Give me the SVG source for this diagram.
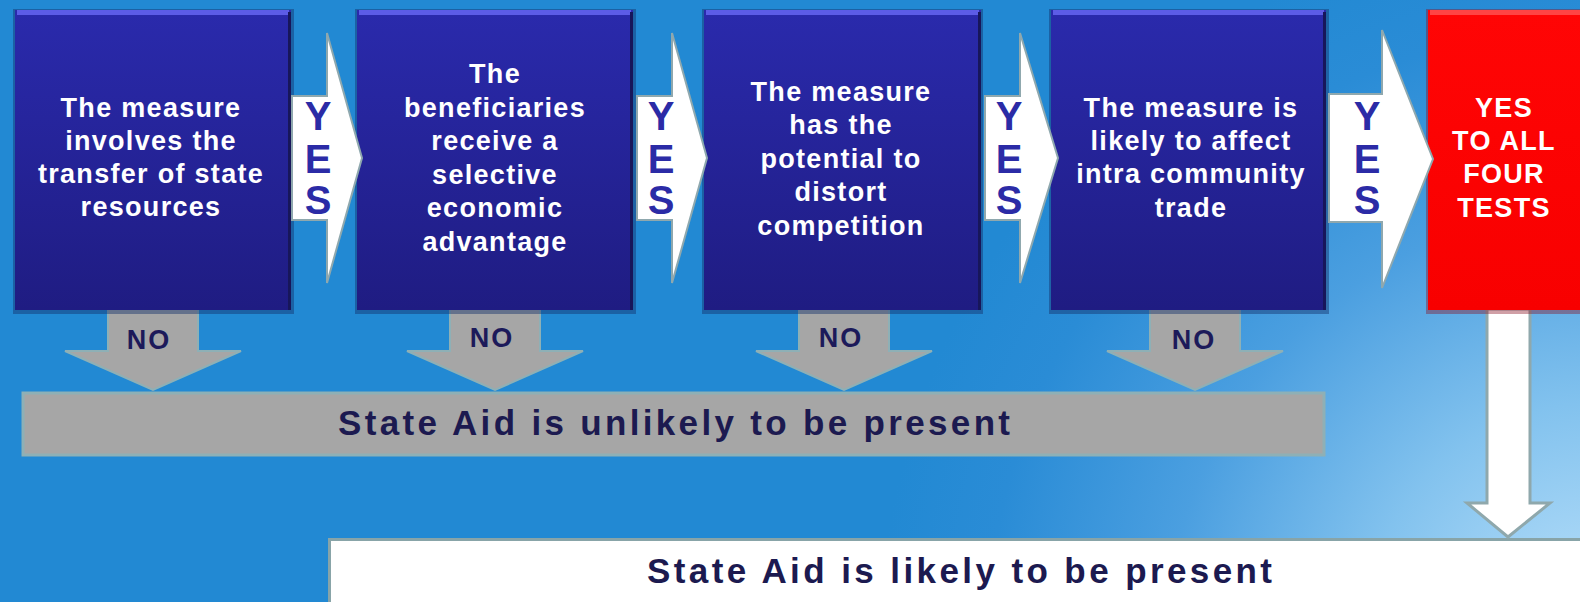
<svg xmlns="http://www.w3.org/2000/svg" width="1580" height="602" viewBox="0 0 1580 602">
  <defs>
    <radialGradient id="bg" gradientUnits="userSpaceOnUse" cx="1600" cy="640" r="720">
      <stop offset="0" stop-color="#bfe3fb"/>
      <stop offset="0.33" stop-color="#82c2ee"/>
      <stop offset="0.6" stop-color="#4b9fe0"/>
      <stop offset="0.85" stop-color="#2a8cd6"/>
      <stop offset="1" stop-color="#2289d3"/>
    </radialGradient>
    <linearGradient id="boxFill" x1="0" y1="0" x2="0" y2="1">
      <stop offset="0" stop-color="#2a2aac"/>
      <stop offset="1" stop-color="#1f1c82"/>
    </linearGradient>
    <linearGradient id="redFill" x1="0" y1="0" x2="0" y2="1">
      <stop offset="0" stop-color="#ff0505"/>
      <stop offset="1" stop-color="#f80000"/>
    </linearGradient>
    <style>
      .txt { font-family: "Liberation Sans", Arial, sans-serif; font-weight: bold; }
      .boxText { fill: #ffffff; font-size: 27px; letter-spacing: 1.3px; text-anchor: middle; }
      .yes { fill: #2b2ba6; font-size: 40px; text-anchor: middle; }
      .no { fill: #1c1a5a; font-size: 27px; letter-spacing: 2px; text-anchor: middle; }
      .big { fill: #1c1a50; font-size: 35px; }
      .shadow { fill: #13306a; opacity: 0.45; }
      .box { fill: url(#boxFill); }
      .hilite { fill: #5c5ce6; }
      .edge { fill: #17165a; }
      .yesArrow { fill: #ffffff; stroke: #8fa8ae; stroke-width: 2; }
      .noArrow { fill: #a6a6a6; stroke: #8eb0b6; stroke-width: 2; }
    </style>
  </defs>

  <!-- backdrop -->
  <rect x="0" y="0" width="1580" height="602" fill="url(#bg)"/>

  <!-- outcome bar for a failed test -->
  <g id="unlikely">
    <rect x="23" y="393" width="1301" height="62" fill="#a6a6a6" stroke="#8eb0b6" stroke-width="3"/>
    <text class="txt big" x="338" y="435" textLength="672" lengthAdjust="spacing">State Aid is unlikely to be present</text>
  </g>

  <!-- outcome box when all tests pass -->
  <g id="likely">
    <rect x="329.5" y="539.5" width="1300" height="100" fill="#ffffff" stroke="#88a4a8" stroke-width="3"/>
    <text class="txt big" x="647" y="583" textLength="625" lengthAdjust="spacing">State Aid is likely to be present</text>
  </g>

  <!-- connectors: NO drops, YES arrows, final down arrow -->
  <g id="connectors">
    <g id="no-arrows">
      <path class="noArrow" d="M108,309 H198 V351 H241 L153,390 L65,351 H108 Z"/>
      <path class="noArrow" d="M450,309 H540 V351 H583 L495,390 L407,351 H450 Z"/>
      <path class="noArrow" d="M799,309 H889 V351 H932 L844,390 L756,351 H799 Z"/>
      <path class="noArrow" d="M1150,309 H1240 V351 H1283 L1195,390 L1107,351 H1150 Z"/>
      <text class="txt no" x="149" y="349">NO</text>
      <text class="txt no" x="492" y="347">NO</text>
      <text class="txt no" x="841" y="347">NO</text>
      <text class="txt no" x="1194" y="349">NO</text>
    </g>
    <path id="down-arrow" d="M1487,309 H1530 V503 H1550 L1508,537 L1467,503 H1487 Z" fill="#ffffff" stroke="#8fa8ac" stroke-width="3"/>
  </g>

  <!-- test 1 -->
  <g id="test1">
    <rect class="shadow" x="13" y="9" width="281" height="305"/>
    <rect class="box" x="15" y="10" width="276" height="300"/>
    <rect class="hilite" x="17" y="10" width="272" height="5"/>
    <rect class="edge" x="288" y="12" width="3" height="298"/>
    <text class="txt boxText" x="151" y="117">The measure</text>
    <text class="txt boxText" x="151" y="150">involves the</text>
    <text class="txt boxText" x="151" y="183">transfer of state</text>
    <text class="txt boxText" x="151" y="216">resources</text>
  </g>

  <!-- test 2 -->
  <g id="test2">
    <rect class="shadow" x="355" y="9" width="281" height="305"/>
    <rect class="box" x="357" y="10" width="276" height="300"/>
    <rect class="hilite" x="359" y="10" width="272" height="5"/>
    <rect class="edge" x="630" y="12" width="3" height="298"/>
    <text class="txt boxText" x="495" y="83">The</text>
    <text class="txt boxText" x="495" y="117">beneficiaries</text>
    <text class="txt boxText" x="495" y="150">receive a</text>
    <text class="txt boxText" x="495" y="184">selective</text>
    <text class="txt boxText" x="495" y="217">economic</text>
    <text class="txt boxText" x="495" y="251">advantage</text>
  </g>

  <!-- test 3 -->
  <g id="test3">
    <rect class="shadow" x="702" y="9" width="281" height="305"/>
    <rect class="box" x="704" y="10" width="277" height="300"/>
    <rect class="hilite" x="706" y="10" width="273" height="5"/>
    <rect class="edge" x="978" y="12" width="3" height="298"/>
    <text class="txt boxText" x="841" y="101">The measure</text>
    <text class="txt boxText" x="841" y="134">has the</text>
    <text class="txt boxText" x="841" y="168">potential to</text>
    <text class="txt boxText" x="841" y="201">distort</text>
    <text class="txt boxText" x="841" y="235">competition</text>
  </g>

  <!-- test 4 -->
  <g id="test4">
    <rect class="shadow" x="1049" y="9" width="280" height="305"/>
    <rect class="box" x="1051" y="10" width="275" height="300"/>
    <rect class="hilite" x="1053" y="10" width="271" height="5"/>
    <rect class="edge" x="1323" y="12" width="3" height="298"/>
    <text class="txt boxText" x="1191" y="117">The measure is</text>
    <text class="txt boxText" x="1191" y="150">likely to affect</text>
    <text class="txt boxText" x="1191" y="183">intra community</text>
    <text class="txt boxText" x="1191" y="217">trade</text>
  </g>

  <!-- all tests passed -->
  <g id="all-yes">
    <rect x="1426" y="9" width="160" height="305" fill="#8a1020" opacity="0.4"/>
    <rect x="1428" y="10" width="160" height="300" fill="url(#redFill)"/>
    <rect x="1430" y="10" width="150" height="5" fill="#ff4444"/>
    <text class="txt boxText" x="1504" y="117">YES</text>
    <text class="txt boxText" x="1504" y="150">TO ALL</text>
    <text class="txt boxText" x="1504" y="183">FOUR</text>
    <text class="txt boxText" x="1504" y="217">TESTS</text>
  </g>

  <!-- YES arrows between tests -->
  <g id="yes-arrows">
    <path class="yesArrow" d="M292,96 H327 V33 L362,158 L327,283 V220 H292 Z"/>
    <path class="yesArrow" d="M637,96 H672 V33 L707,158 L672,283 V220 H637 Z"/>
    <path class="yesArrow" d="M985,96 H1020 V33 L1058,158 L1020,283 V220 H985 Z"/>
    <path class="yesArrow" d="M1329,94 H1382 V30 L1433,159 L1382,288 V222 H1329 Z"/>
    <g class="txt yes">
      <text x="318" y="130">Y</text><text x="318" y="173">E</text><text x="318" y="214">S</text>
      <text x="661" y="130">Y</text><text x="661" y="173">E</text><text x="661" y="214">S</text>
      <text x="1009" y="130">Y</text><text x="1009" y="173">E</text><text x="1009" y="214">S</text>
      <text x="1367" y="130">Y</text><text x="1367" y="173">E</text><text x="1367" y="214">S</text>
    </g>
  </g>
</svg>
